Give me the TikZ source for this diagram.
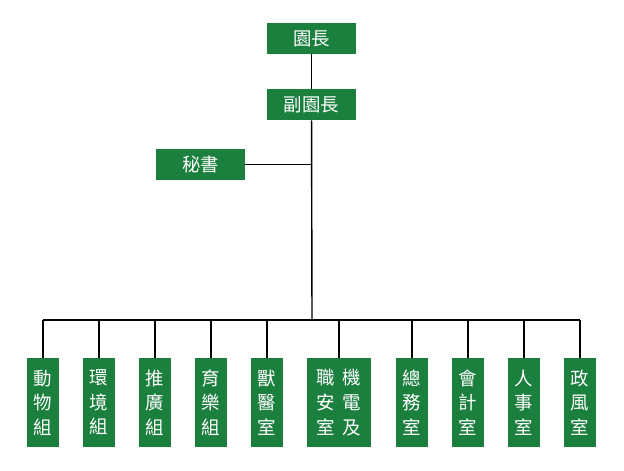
\documentclass[tikz,border=0pt]{standalone}
\usepackage{fontspec}
\newfontfamily\cjkfont{Noto Sans CJK TC}
\definecolor{boxgreen}{HTML}{1B7F3E}
\tikzset{
  unit/.style={fill=boxgreen, text=white, font=\cjkfont\fontsize{10.5}{14}\selectfont,
    inner sep=0pt, align=center},
  head/.style={unit, minimum width=1.78cm, minimum height=0.62cm},
  dept/.style={unit, minimum width=0.64cm, minimum height=1.78cm},
  wide/.style={unit, minimum width=1.28cm, minimum height=1.78cm},
  link/.style={draw=black, line width=0.8pt}
}
\begin{document}
\begin{tikzpicture}[x=0.02cm, y=-0.02cm]
 \useasboundingbox (0,0) rectangle (624,470);
 \node[head] (dir) at (311.5,38.5) {園長};
 \node[head] (vice) at (311.5,104.5) {副園長};
 \node[head] (sec) at (200.5,164.5) {秘書};
 \coordinate (bus) at (312,320);
 \coordinate (junc) at (312,164.5);

 \node[dept] (d1) at (43,402.5) {動\\物\\組};
 \node[dept] (d2) at (99,402.5) {環\\境\\組};
 \node[dept] (d3) at (155,402.5) {推\\廣\\組};
 \node[dept] (d4) at (211,402.5) {育\\樂\\組};
 \node[dept] (d5) at (267,402.5) {獸\\醫\\室};
 \node[wide] (d6) at (339,402.5) {職\hspace{0.4em}機\\安\hspace{0.4em}電\\室\hspace{0.4em}及};
 \node[dept] (d7) at (412,402.5) {總\\務\\室};
 \node[dept] (d8) at (468,402.5) {會\\計\\室};
 \node[dept] (d9) at (524,402.5) {人\\事\\室};
 \node[dept] (d10) at (580,402.5) {政\\風\\室};

 \draw[link] (dir) -- (vice);
 \draw[link] (vice) -- (bus);
 \draw[link] (sec) -- (junc);
 \draw[link] (d1.north |- bus) -- (d10.north |- bus);
 \foreach \d in {d1,d2,d3,d4,d5,d6,d7,d8,d9,d10}
   \draw[link] (\d.north |- bus) -- (\d.north);
\end{tikzpicture}
\end{document}
